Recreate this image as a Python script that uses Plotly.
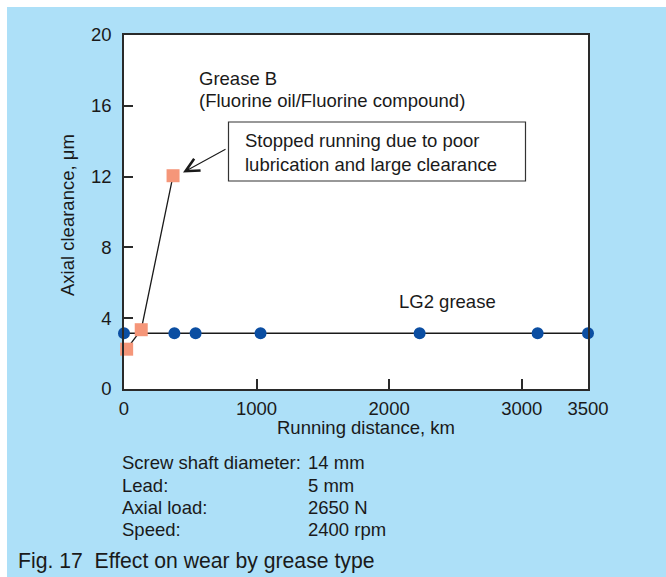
import plotly.graph_objects as go

# Running distance (km) and axial clearance (um) for the two greases
lg2_distance = [0, 380, 540, 1030, 2230, 3120, 3500]
lg2_clearance = [3.15, 3.15, 3.15, 3.15, 3.15, 3.15, 3.15]

greaseb_distance = [20, 130, 370]
greaseb_clearance = [2.25, 3.35, 12.05]

x_ticks = [0, 1000, 2000, 3000, 3500]
y_ticks = [0, 4, 8, 12, 16, 20]

spec_names = ["Screw shaft diameter:", "Lead:", "Axial load:", "Speed:"]
spec_values = ["14 mm", "5 mm", "2650 N", "2400 rpm"]

FONT = "Liberation Sans, Arial, Helvetica, sans-serif"
INK = "#1a1a1a"
BG = "#ade0f8"
FS = 18.5

W, H = 666, 577
L, R, T, B = 124, 588, 35, 389  # plot area in pixels


def fx(px):
    return (px - L) / (R - L)


def fy(py):
    return (B - py) / (B - T)


fig = go.Figure()

fig.add_trace(go.Scatter(
    x=lg2_distance, y=lg2_clearance, mode="lines+markers",
    line=dict(color=INK, width=1.3),
    marker=dict(symbol="circle", size=12, color="#0b4ea2"),
    cliponaxis=False, showlegend=False,
))
fig.add_trace(go.Scatter(
    x=greaseb_distance, y=greaseb_clearance, mode="lines+markers",
    line=dict(color=INK, width=1.3),
    marker=dict(symbol="square", size=13, color="#f59679"),
    cliponaxis=False, showlegend=False,
))

axis_common = dict(
    showgrid=False, zeroline=False, showline=True, mirror=True,
    linecolor="#2a2a2a", linewidth=1.5,
    ticks="inside", tickcolor="#2a2a2a", tickwidth=1.5,
    tickfont=dict(family=FONT, size=FS, color=INK),
    tickmode="array",
)

fig.update_xaxes(range=[0, 3500], tickvals=x_ticks, ticklen=10,
                 ticklabelstandoff=2, **axis_common)
fig.update_yaxes(range=[0, 20], tickvals=y_ticks, ticklen=9,
                 ticklabelstandoff=7, **axis_common)

annotations = []


def text(px, py, s, size=FS, xanchor="left", angle=0):
    annotations.append(dict(
        xref="paper", yref="paper", x=fx(px), y=fy(py), text=s,
        showarrow=False, xanchor=xanchor, yanchor="middle",
        textangle=angle, borderpad=0,
        font=dict(family=FONT, size=size, color=INK),
    ))


# axis titles
text(366, 427, "Running distance, km", xanchor="center")
text(67, 215, "Axial clearance, \u03bcm", xanchor="center", angle=-90)

# series labels
text(198, 79, "Grease B")
text(198, 100, "(Fluorine oil/Fluorine compound)")
text(398, 301, "LG2 grease")

# callout box with arrow to the last Grease B point
fig.add_shape(type="rect", xref="paper", yref="paper",
              x0=fx(228.5), x1=fx(525.5), y0=fy(181), y1=fy(122),
              line=dict(color="#333333", width=1.2), fillcolor="white",
              layer="above")
text(244, 152.5, "Stopped running due to poor<br>lubrication and large clearance")
annotations[-1]["align"] = "left"

annotations.append(dict(
    xref="paper", yref="paper", x=fx(183), y=fy(172.5),
    axref="pixel", ayref="pixel", ax=44, ay=-24,
    text="", showarrow=True, arrowhead=5, arrowsize=2.4, arrowwidth=1.1,
    arrowcolor=INK,
))

# test conditions
spec_y = [462, 485, 507, 529]
for name, val, py in zip(spec_names, spec_values, spec_y):
    text(121, py, name)
    text(307, py, val)

# caption
text(17, 561, "Fig. 17  Effect on wear by grease type", size=21.2)

# white frame strips at top and left edge
fig.add_shape(type="rect", xref="paper", yref="paper",
              x0=fx(0), x1=fx(W), y0=fy(7), y1=fy(0),
              line=dict(width=0), fillcolor="white", layer="below")
fig.add_shape(type="rect", xref="paper", yref="paper",
              x0=fx(0), x1=fx(7), y0=fy(H), y1=fy(0),
              line=dict(width=0), fillcolor="white", layer="below")

fig.update_layout(
    width=W, height=H,
    margin=dict(l=L, r=W - R, t=T, b=H - B, pad=0),
    paper_bgcolor=BG, plot_bgcolor="white",
    font=dict(family=FONT, size=FS, color=INK),
    annotations=annotations,
    showlegend=False,
)

fig.write_html("out.html")
